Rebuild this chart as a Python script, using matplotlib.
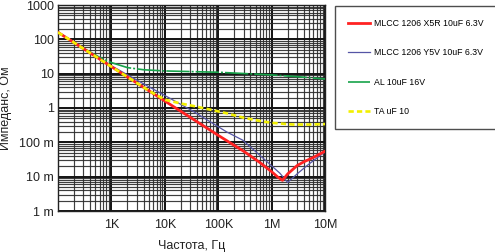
import numpy as np
import matplotlib
matplotlib.use('Agg')
import matplotlib.pyplot as plt
from matplotlib.ticker import LogLocator, NullFormatter

plt.rcParams['font.family'] = ['Liberation Sans', 'DejaVu Sans']

# ---------------- data ----------------
x5r_f = [100, 1e3, 1e4, 1e5, 3e5, 6e5, 1e6, 1.3e6, 1.6e6, 2e6, 3e6, 4e6, 6e6, 1e7]
x5r_z = [160, 16, 1.6, 0.16, 0.055, 0.026, 0.014, 0.0098, 0.0078, 0.012, 0.021, 0.027, 0.036, 0.055]

y5v_f = [100, 1e3, 3e3, 8e3, 1.26e4, 3.4e4, 1.45e5, 2.9e5, 7e5, 1.43e6, 2e6, 3e6, 4.6e6, 1e7]
y5v_z = [160, 17, 6.5, 2.8, 1.9, 0.8, 0.2, 0.115, 0.034, 0.0126, 0.0068, 0.012, 0.021, 0.053]

al_f = [100, 300, 600, 1e3, 2e3, 4e3, 1e4, 1e5, 1e6, 3e6, 1e7]
al_z = [160, 55, 30, 21, 15, 13, 12, 11, 9.2, 8.2, 7.0]

ta_f = [100, 1e3, 5e3, 1e4, 2e4, 3.4e4, 7e4, 1.45e5, 3e5, 6e5, 1e6, 2.5e6, 5e6, 1e7]
ta_z = [160, 16, 3.2, 1.75, 1.35, 1.15, 0.9, 0.7, 0.52, 0.42, 0.37, 0.33, 0.33, 0.34]

labels = ['MLCC 1206 X5R 10uF 6.3V', 'MLCC 1206 Y5V 10uF 6.3V',
          'AL 10uF 16V', 'TA uF 10']

x_ticks = [1e3, 1e4, 1e5, 1e6, 1e7]
x_ticklabels = ['1K', '10K', '100K', '1M', '10M']
y_ticks = [1e-3, 1e-2, 1e-1, 1, 10, 100, 1000]
y_ticklabels = ['1 m', '10 m', '100 m', '1', '10', '100', '1000']

# ---------------- figure ----------------
fig = plt.figure(figsize=(4.95, 2.52), dpi=100)
ax = fig.add_axes([58/495, 1-211/252, 267/495, 206/252])

ax.set_xscale('log')
ax.set_yscale('log')
ax.set_xlim(100, 1e7)
ax.set_ylim(1e-3, 1e3)

ax.xaxis.set_minor_locator(LogLocator(base=10, subs=np.arange(2, 10)))
ax.yaxis.set_minor_locator(LogLocator(base=10, subs=np.arange(2, 10)))
ax.xaxis.set_minor_formatter(NullFormatter())
ax.yaxis.set_minor_formatter(NullFormatter())

ax.grid(which='major', color='#111111', lw=1.4)
ax.grid(which='minor', color='#2a2a2a', lw=0.85, alpha=0.9)
ax.set_axisbelow(True)

l1, = ax.plot(x5r_f, x5r_z, color='#ff2222', lw=2.0, zorder=5)
l2, = ax.plot(y5v_f, y5v_z, color='#5555a5', lw=0.9, zorder=4)
l3, = ax.plot(al_f, al_z, color='#17a34a', lw=1.2, dashes=(14, 1.2, 1.2, 1.2), zorder=3)
l4, = ax.plot(ta_f, ta_z, color='#f2f000', lw=1.9, dashes=(2.0, 1.2), zorder=6)

ax.set_xticks(x_ticks)
ax.set_xticklabels(x_ticklabels)
ax.set_yticks(y_ticks)
ax.set_yticklabels(y_ticklabels)
ax.tick_params(which='both', length=0, labelsize=9, colors='#222222')
ax.tick_params(axis='x', pad=6)
ax.tick_params(axis='y', pad=3)

for s in ax.spines.values():
    s.set_color('#222222')
    s.set_linewidth(1.0)

ax.set_xlabel('Частота, Гц', fontsize=9, color='#222222', labelpad=6)
ax.set_ylabel('Импеданс, Ом', fontsize=9, color='#222222', labelpad=5)

leg = fig.legend([l1, l2, l3, l4], labels, loc='upper left',
                 bbox_to_anchor=(335/495, 1-6/252), borderaxespad=0,
                 fontsize=6.3, frameon=True, fancybox=False,
                 handlelength=2.6, handletextpad=0.4, labelspacing=2.35,
                 borderpad=1.45)
leg.get_frame().set_edgecolor('#222222')
leg.get_frame().set_linewidth(1.0)

fig.savefig('out.png', dpi=100)
